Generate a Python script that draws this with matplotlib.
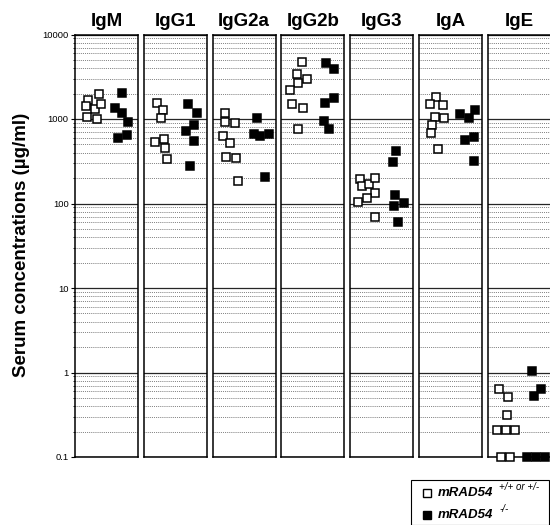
"""Serum immunoglobulin levels per isotype, mRAD54 controls vs knockouts."""
import matplotlib
matplotlib.use("Agg")
import matplotlib.pyplot as plt
from matplotlib.patches import Rectangle
from matplotlib.ticker import LogLocator, NullFormatter, NullLocator

plt.rcParams["font.family"] = ["Liberation Sans", "DejaVu Sans"]

isotypes = ["IgM", "IgG1", "IgG2a", "IgG2b", "IgG3", "IgA", "IgE"]

# mRAD54 +/+ or +/- mice, serum concentration in ug/ml
wt_values = [
    [1980, 1680, 1425, 1325, 1505, 1065, 990],
    [1535, 1279, 1019, 530, 575, 450, 336],
    [1167, 929, 904, 634, 516, 358, 348, 186],
    [4765, 3410, 2645, 2950, 2203, 1505, 1361, 768],
    [193, 163, 169, 199, 132, 115, 105, 69],
    [1807, 1505, 1453, 1065, 1019, 849, 689, 438],
    [0.63, 0.51, 0.31, 0.21, 0.21, 0.21, 0.1, 0.1],
]
# mRAD54 -/- mice
ko_values = [
    [2015, 1361, 1167, 929, 647, 591],
    [1505, 1188, 849, 727, 549, 278],
    [1019, 659, 634, 664, 204],
    [4637, 3905, 1786, 1560, 947, 755],
    [418, 307, 126, 102, 93, 61],
    [1137, 1019, 1279, 618, 564, 321],
    [1.05, 0.63, 0.53, 0.1, 0.1, 0.1],
]
# horizontal spread of the points inside each panel (0 = left edge, 1 = right)
wt_jitter = [
    [.38, .21, .17, .32, .41, .19, .35],
    [.21, .30, .27, .17, .32, .33, .37],
    [.19, .19, .35, .16, .27, .21, .37, .40],
    [.32, .24, .27, .41, .14, .17, .35, .27],
    [.16, .19, .30, .40, .40, .27, .13, .40],
    [.27, .17, .38, .25, .40, .21, .19, .30],
    [.17, .32, .30, .14, .29, .43, .21, .35],
]
ko_jitter = [
    [.75, .63, .75, .84, .83, .68],
    [.70, .84, .79, .67, .79, .73],
    [.70, .65, .76, .89, .83],
    [.71, .84, .83, .70, .68, .75],
    [.73, .68, .71, .86, .70, .76],
    [.65, .79, .89, .87, .73, .87],
    [.70, .84, .73, .62, .76, .90],
]
tick_values = [0.1, 1, 10, 100, 1000, 10000]
tick_labels = ["0.1", "1", "10", "100", "1000", "10000"]

W, H = 550, 525
fig = plt.figure(figsize=(W / 100, H / 100), dpi=100)

panel_left0, panel_step, panel_w = 75, 68.8, 63
bottom_px, top_px = 457, 34.5

for i, name in enumerate(isotypes):
    left = panel_left0 + i * panel_step
    ax = fig.add_axes([left / W, (H - bottom_px) / H, panel_w / W,
                       (bottom_px - top_px) / H])
    ax.set_yscale("log")
    ax.set_ylim(0.1, 10000)
    ax.set_xlim(0, 1)
    ax.xaxis.set_major_locator(NullLocator())
    ax.yaxis.set_minor_locator(LogLocator(base=10, subs=range(2, 10)))
    ax.yaxis.set_minor_formatter(NullFormatter())
    ax.grid(which="major", axis="y", color="0.15", lw=0.9, ls="-")
    ax.grid(which="minor", axis="y", color="0.35", lw=0.6, ls=(0, (1, 1.3)))
    ax.set_axisbelow(True)
    for sp in ax.spines.values():
        sp.set_linewidth(1.1)
    if i == 0:
        ax.set_yticks(tick_values)
        ax.set_yticklabels(tick_labels, fontsize=6.8)
        ax.tick_params(which="major", axis="y", direction="out", length=3,
                       width=0.8, pad=1.5)
        ax.tick_params(which="minor", axis="y", direction="out", length=1.8,
                       width=0.6)
    else:
        ax.tick_params(which="both", axis="y", left=False, labelleft=False)
    ax.set_title(name, fontsize=13.5, fontweight="bold", pad=6)

    ax.plot(wt_jitter[i], wt_values[i], ls="none", marker="s", ms=6,
            mfc="white", mec="black", mew=1.1, clip_on=False, zorder=3)
    ax.plot(ko_jitter[i], ko_values[i], ls="none", marker="s", ms=6,
            mfc="black", mec="black", mew=1.1, clip_on=False, zorder=3)

fig.text(22 / W, 1 - 245 / H, "Serum concentrations (\u00b5g/ml)",
         rotation=90, ha="center", va="center", fontsize=13.5,
         fontweight="bold")

# legend box at bottom right
fig.patches.append(Rectangle((411 / W, 0), (549 - 411) / W, (525 - 480) / H,
                             transform=fig.transFigure, fill=False,
                             lw=0.8, ec="black"))
rows = [(493, "white", "+/+ or +/-"), (515, "black", "-/-")]
for y_px, fc, geno in rows:
    yf = 1 - y_px / H
    fig.lines.append(plt.Line2D([427 / W], [yf], transform=fig.transFigure,
                                marker="s", ms=6, mfc=fc, mec="black",
                                mew=1.0, ls="none"))
    fig.text(438 / W, yf, "mRAD54", ha="left", va="center", fontsize=9.5,
             fontweight="bold", style="italic")
    fig.text(499 / W, yf + 6 / H, geno, ha="left", va="center", fontsize=7,
             style="italic")

fig.savefig("out.png", dpi=100)
